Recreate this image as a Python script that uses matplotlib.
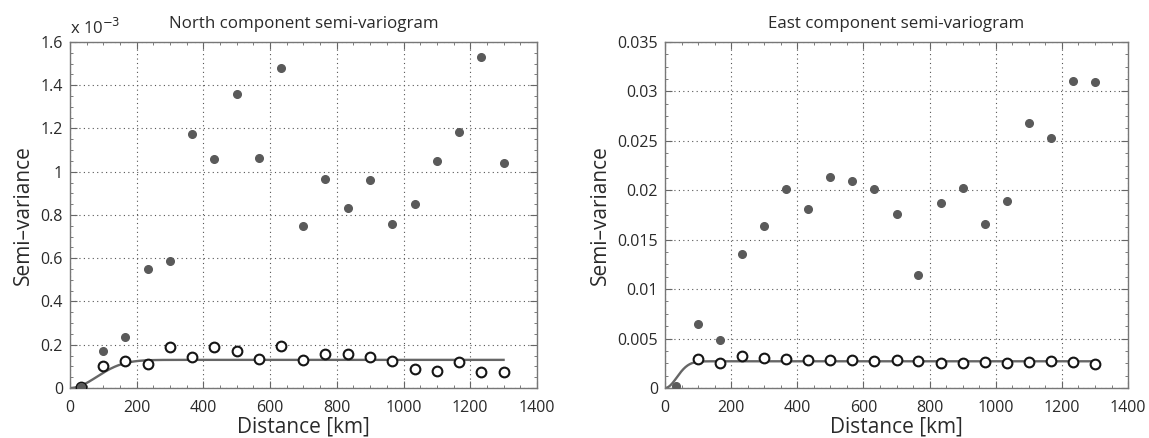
import matplotlib
matplotlib.use("Agg")
import matplotlib.pyplot as plt
import numpy as np
from matplotlib.ticker import FuncFormatter, MultipleLocator, AutoMinorLocator

plt.rcParams['font.family'] = ['Open Sans', 'DejaVu Sans']

distance = [33, 100, 166, 233, 300, 366, 433, 500, 566, 633, 700, 766,
            833, 900, 966, 1033, 1100, 1166, 1233, 1300]

# North component (units of 1e-3)
north_raw = [0.005, 0.17, 0.235, 0.55, 0.585, 1.175, 1.06, 1.36, 1.065, 1.48,
             0.75, 0.965, 0.83, 0.96, 0.76, 0.85, 1.05, 1.185, 1.53, 1.04]
north_filt = [0.005, 0.10, 0.125, 0.11, 0.19, 0.145, 0.19, 0.17, 0.135, 0.195,
              0.13, 0.155, 0.155, 0.145, 0.125, 0.09, 0.08, 0.12, 0.075, 0.075]
north_sill, north_range = 0.13, 113.0

# East component (first filtered point not shown in the original)
east_raw = [0.0002, 0.0065, 0.0049, 0.0136, 0.0164, 0.0201, 0.0181, 0.0213,
            0.0209, 0.0201, 0.0176, 0.0114, 0.0187, 0.0202, 0.0166, 0.0189,
            0.0268, 0.0253, 0.0311, 0.0309]
east_filt = [np.nan, 0.0029, 0.0025, 0.0032, 0.0030, 0.0029, 0.0028, 0.0028,
             0.0028, 0.0027, 0.0028, 0.0027, 0.0025, 0.0025, 0.0026, 0.0025,
             0.0026, 0.0027, 0.0026, 0.0024]
east_sill, east_range = 0.0027, 50.0

fig = plt.figure(figsize=(11.49, 4.38), dpi=100)
ax1 = fig.add_axes([0.0609, 0.1142, 0.4064, 0.790])
ax2 = fig.add_axes([0.5788, 0.1142, 0.4030, 0.790])

fill_col = '#5a5a5a'
line_col = '#666666'
text_col = '#2a2a2a'

def gauss_model(h, sill, rng):
    return sill * (1 - np.exp(-(h / rng) ** 2))

def fmt(v, pos):
    return '%g' % round(v, 6)

def style(ax, ymax, ystep, title):
    ax.set_xlim(0, 1400)
    ax.set_ylim(0, ymax)
    ax.xaxis.set_major_locator(MultipleLocator(200))
    ax.yaxis.set_major_locator(MultipleLocator(ystep))
    ax.xaxis.set_minor_locator(AutoMinorLocator(4))
    ax.yaxis.set_minor_locator(AutoMinorLocator(4))
    ax.xaxis.set_major_formatter(FuncFormatter(fmt))
    ax.yaxis.set_major_formatter(FuncFormatter(fmt))
    ax.tick_params(which='both', direction='in', top=True, right=True,
                   colors='#666666', labelcolor=text_col, labelsize=11.5)
    ax.tick_params(which='major', length=5, width=0.8)
    ax.tick_params(which='minor', length=2.5, width=0.6)
    ax.tick_params(axis='x', which='major', pad=9)
    ax.tick_params(axis='y', which='major', pad=5)
    ax.grid(True, which='major', linestyle=(0, (1, 3)), color='#555555', linewidth=0.8)
    for s in ax.spines.values():
        s.set_color('#777777')
        s.set_linewidth(1.0)
    ax.set_xlabel('Distance [km]', fontsize=15, color=text_col, labelpad=0)
    ax.set_ylabel('Semi\u2013variance', fontsize=15, color=text_col, labelpad=5)
    ax.set_title(title, fontsize=12.2, color=text_col, pad=10)

h = np.linspace(0, distance[-1], 400)

ax1.plot(h, gauss_model(h, north_sill, north_range), color=line_col, lw=1.7, zorder=2)
ax1.plot(distance, north_filt, 'o', mfc='white', mec='#151515', mew=1.5, ms=7, zorder=3)
ax1.plot(distance, north_raw, 'o', color=fill_col, ms=5.5, zorder=4)
style(ax1, 1.6, 0.2, 'North component semi-variogram')
ax1.text(0.0, 1.012, 'x 10$^{-3}$', transform=ax1.transAxes, fontsize=12,
         color=text_col, ha='left', va='bottom')

ax2.plot(h, gauss_model(h, east_sill, east_range), color=line_col, lw=1.7, zorder=2)
ax2.plot(distance, east_filt, 'o', mfc='white', mec='#151515', mew=1.5, ms=7, zorder=3)
ax2.plot(distance, east_raw, 'o', color=fill_col, ms=5.5, zorder=4)
style(ax2, 0.035, 0.005, 'East component semi-variogram')

fig.savefig('out.png', dpi=100)
